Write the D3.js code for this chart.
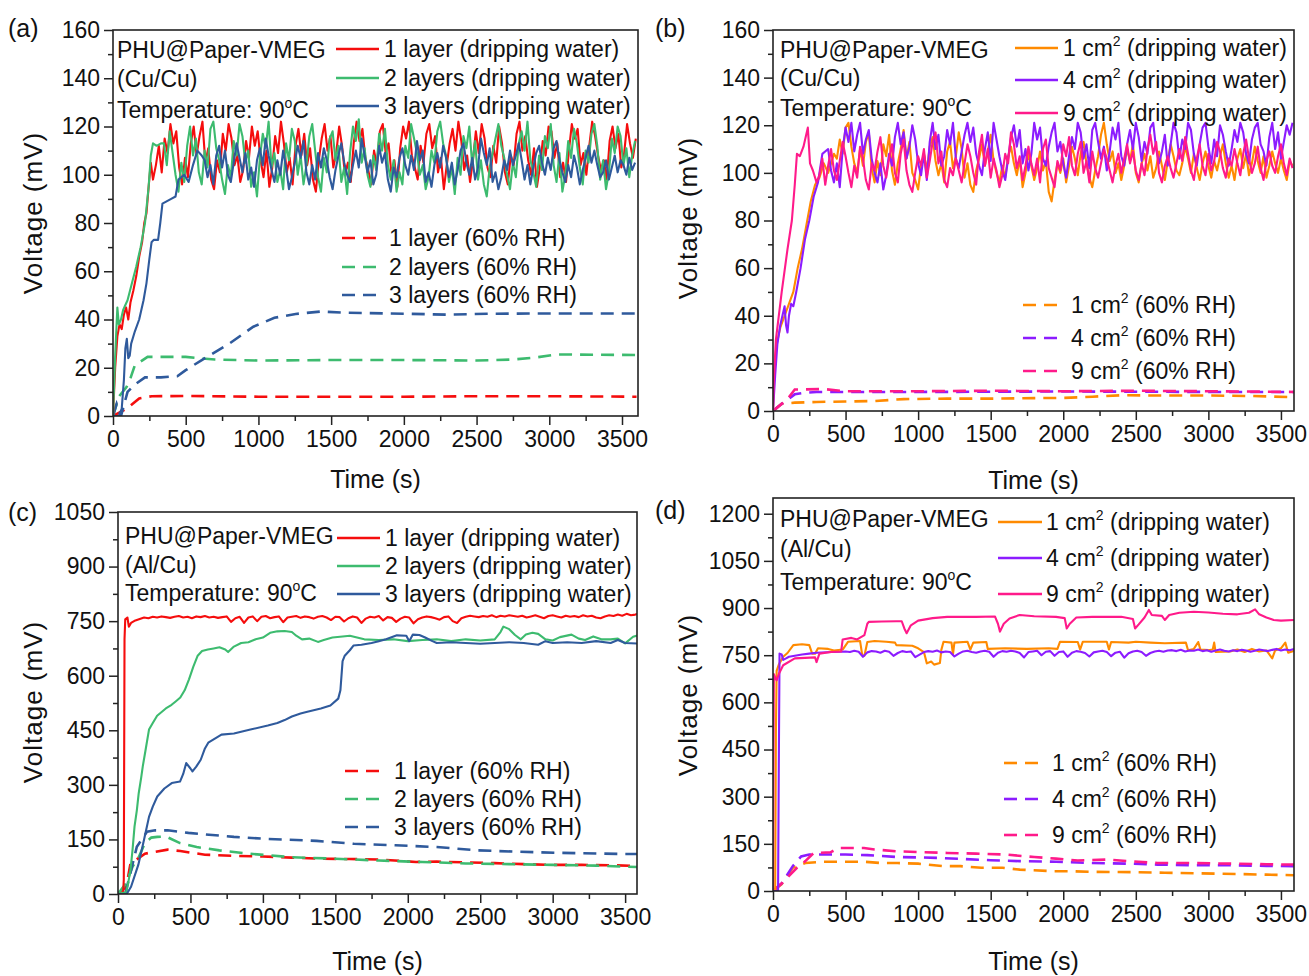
<!DOCTYPE html>
<html>
<head>
<meta charset="utf-8">
<script src="https://cdn.jsdelivr.net/npm/d3@7"></script>
<style>
  body { margin: 0; background: #fff; }
  svg text { font-family: "Liberation Sans", Arial, sans-serif; fill: #111; }
</style>
</head>
<body>
<svg id="chart" width="1309" height="976"></svg>
<script>
// ---------------- tick labels ----------------
const timeTicks = [0, 500, 1000, 1500, 2000, 2500, 3000, 3500];
const timeMinor = [250, 750, 1250, 1750, 2250, 2750, 3250];
const voltTicksCu = [0, 20, 40, 60, 80, 100, 120, 140, 160];
const voltMinorCu = [10, 30, 50, 70, 90, 110, 130, 150];
const voltTicksC = [0, 150, 300, 450, 600, 750, 900, 1050];
const voltTicksD = [0, 150, 300, 450, 600, 750, 900, 1050, 1200];
const voltMinorAl = [75, 225, 375, 525, 675, 825, 975, 1125];

// ---------------- legend labels ----------------
const layerNames = ["1 layer", "2 layers", "3 layers"];
const areaNames = ["1", "4", "9"];

// plateau samples: read every 20 s on the Cu/Cu panels, every 30 s on Al/Cu
const STEP_CU = 20;
const STEP_AL = 30;

// ---------------- (a) Cu/Cu, layers ----------------
const redA_ramp = [[0,0],[15,20],[30,33],[45,38],[60,36],[75,42],[90,45],[105,40],[120,47],[140,52],[160,58],[180,66],[200,72],[215,80],[230,84],[245,95],[260,105],[275,98]];
const redA_vals = [104,112,101,115,109,121,113,118,103,96,
  107,99,113,120,108,116,122,105,111,98,
  94,106,101,117,110,121,115,104,108,97,
  102,114,107,120,112,118,106,99,110,95,
  103,116,109,122,113,101,107,96,112,119,
  108,117,104,111,98,93,106,115,121,110,
  116,103,109,120,112,100,105,97,113,122,
  114,119,107,102,96,110,104,118,121,109,
  113,100,106,95,111,120,115,122,108,103,
  98,112,105,117,121,111,116,101,107,94,
  104,113,119,110,122,114,102,108,97,106,
  118,109,121,115,103,99,112,105,120,113,
  101,96,108,104,117,122,110,116,106,100,
  111,95,103,114,108,120,118,107,113,99,
  105,97,110,121,115,119,104,109,100,112,
  122,116,108,102,106,98,114,120,111,117,
  103,109,121,113,107,115];
const greenA_ramp = [[0,0],[15,25],[30,45],[40,38],[55,40],[70,44],[85,46],[100,48],[130,55],[160,62],[190,70],[220,80],[245,95],[260,108],[275,113],[300,112],[330,113]];
const greenA_vals = [113,104,118,109,100,93,105,97,112,120,
  108,115,101,96,110,103,119,122,111,106,
  98,92,104,99,114,108,121,116,105,110,
  95,101,91,107,117,111,122,103,109,97,
  102,94,113,106,119,114,100,108,96,104,
  116,121,110,99,93,107,101,115,118,106,
  112,97,103,92,109,120,114,123,105,111,
  100,95,108,102,117,110,119,104,98,106,
  93,101,96,112,107,121,115,109,100,104,
  94,99,110,105,118,122,113,108,97,103,
  92,107,100,116,111,120,104,114,98,106,
  96,91,103,109,115,121,112,107,100,94,
  105,99,113,118,110,122,106,101,95,108,
  102,116,111,121,104,97,109,93,100,114,
  107,119,113,103,96,110,105,117,121,112,
  98,106,94,101,115,109,120,116,104,111,
  99,108,114];
const blueA_ramp = [[0,0],[40,0],[60,3],[75,15],[85,28],[95,32],[105,24],[115,25],[125,30],[150,35],[180,40],[210,48],[230,55],[250,65],[265,72],[280,73],[310,73],[325,80],[340,88],[400,90],[430,91],[450,98],[490,100],[520,97],[550,104],[580,110],[610,108]];
const blueA_vals = [106,99,104,96,108,112,103,110,100,97,
  105,113,107,101,109,98,103,95,106,111,
  104,115,108,102,97,106,100,110,103,94,
  99,105,112,107,114,101,96,104,98,109,
  103,111,106,99,94,102,108,113,105,100,
  97,104,110,103,115,108,101,106,96,100,
  112,105,109,98,93,103,99,107,111,104,
  100,108,102,114,106,110,97,101,95,104,
  109,103,112,107,99,105,96,102,110,113,
  105,100,107,98,103,115,109,104,111,97,
  101,94,99,106,102,110,104,108,113,106,
  98,104,96,103,109,112,105,100,107,102,
  111,114,106,101,97,104,99,108,103,96,
  102,107,112,105,110,104,99,101,106,98,
  103,108,101,106,104,100,107,102,105];
const redA_rh = [[0,0],[20,0.7],[93,3],[180,7.3],[267,8.2],[500,8.3],[1000,8],[1500,8],[2000,8],[2500,8.2],[3000,8.2],[3600,8]];
const greenA_rh = [[0,0],[40,8],[93,12],[122,16],[150,21],[238,24.5],[500,24.5],[700,23.4],[1000,23],[1500,23.2],[2000,23.2],[2500,23],[2750,23.4],[2900,24.2],[3050,25.5],[3600,25.3]];
const blueA_rh = [[0,0],[25,5],[55,0],[100,10],[150,13],[220,16],[330,16],[442,16.5],[500,19],[616,23.4],[800,30],[965,37],[1110,40.7],[1256,42.3],[1430,43.3],[1600,42.8],[2000,42.4],[2300,42],[2600,42.4],[3000,42.5],[3600,42.5]];

// ---------------- (b) Cu/Cu, areas ----------------
const orangeB_ramp = [[0,0],[10,18],[25,28],[50,35],[80,40],[110,45],[140,50],[170,60],[200,68],[230,78],[260,88],[290,95],[320,98],[350,104],[380,100],[420,108]];
const orangeB_vals = [106,114,108,119,121,111,104,100,110,103,
  113,117,102,96,105,99,112,107,116,101,
  95,104,110,118,106,113,100,97,93,103,
  108,101,111,115,105,99,104,96,109,113,
  102,107,117,110,98,104,95,92,101,106,
  112,103,109,116,105,100,96,103,98,107,
  111,104,99,106,94,100,108,103,97,102,
  109,101,105,92,88,97,104,100,106,96,
  103,111,106,99,108,113,104,98,94,101,
  107,116,121,112,105,109,100,104,97,103,
  110,105,112,100,96,104,108,101,107,98,
  102,109,103,97,105,112,107,101,99,104,
  111,106,100,108,102,97,104,109,103,98,
  105,101,107,112,104,98,103,97,106,110,
  102,108,99,104,111,105,100,107,98,103,
  109,104,100,106,101,97,105,103];
const purpleB_ramp = [[0,0],[15,15],[30,28],[50,36],[65,40],[80,44],[90,36],[100,33],[110,40],[125,45],[140,44],[160,50],[190,60],[220,72],[250,80],[280,90],[310,96],[340,108],[380,110]];
const purpleB_vals = [101,96,104,94,110,119,113,121,109,116,
  121,108,114,118,106,100,96,104,93,99,
  108,103,115,121,112,117,106,111,120,114,
  104,99,108,97,113,121,110,116,103,107,
  118,112,121,106,102,109,116,121,113,119,
  108,103,99,110,117,105,121,114,107,101,
  97,106,115,120,111,118,104,110,101,108,
  121,114,119,106,103,111,117,121,109,113,
  104,98,107,115,110,121,117,106,112,102,
  118,121,113,106,111,101,109,119,114,121,
  107,103,112,118,110,121,115,105,113,108,
  119,121,110,104,109,116,103,112,121,117,
  106,114,110,121,118,108,103,112,119,121,
  111,104,114,107,120,116,109,103,110,118,
  113,121,117,108,104,114,119,121,112,109,
  103,115,121,110,117,106,113,120,116,121];
const pinkB_ramp = [[0,0],[5,12],[20,30],[60,50],[100,68],[130,80],[150,95],[165,108],[185,107],[210,111],[240,119],[255,104],[275,101],[300,96]];
const pinkB_vals = [99,106,95,103,110,101,97,105,113,107,
  100,94,103,98,111,106,97,93,104,101,
  109,115,103,98,106,112,100,96,108,114,
  101,95,92,100,107,103,110,98,105,113,
  117,104,109,97,94,102,99,106,101,96,
  104,112,107,100,95,109,116,103,110,98,
  106,101,94,99,108,104,117,112,102,107,
  97,103,111,104,99,106,96,110,114,102,
  98,94,105,101,112,107,115,103,99,108,
  113,100,105,96,109,102,98,104,110,106,
  101,96,103,108,100,106,112,104,109,101,
  97,104,99,110,116,108,113,100,96,103,
  107,102,98,104,110,105,115,108,101,97,
  106,112,103,99,108,101,105,113,109,102,
  98,106,103,110,104,99,108,114,106,100,
  104,111,102,97,105,109,103,100,107,112,
  104,99,106,102];
const orangeB_rh = [[0,0],[60,3],[150,3.5],[300,3.8],[500,4],[700,4.2],[900,5],[1200,5.2],[1500,5.2],[1800,5.4],[2000,5.5],[2200,6],[2400,6.6],[2700,6.5],[3000,6.5],[3300,6.3],[3600,5.8]];
const purpleB_rh = [[0,0],[60,3],[150,7],[200,7.5],[300,8],[1000,8],[2000,8.2],[3000,8],[3600,8]];
const pinkB_rh = [[0,0],[100,5],[150,9],[350,9.2],[500,8.3],[1000,8.3],[1500,8.5],[2000,8.3],[2500,8.5],[3000,8.3],[3600,8]];

// ---------------- (c) Al/Cu, layers ----------------
const redC_ramp = [[0,0],[35,0],[40,40],[45,700],[50,755],[65,760],[75,735],[90,745]];
const redC_vals = [752,756,760,758,762,760,763,761,759,762,
  764,760,762,758,763,761,764,760,762,759,
  761,763,748,758,762,745,760,763,750,762,
  764,758,761,763,747,760,762,764,759,763,
  761,757,762,764,760,753,762,761,749,758,
  763,760,745,757,762,760,764,752,761,759,
  748,757,762,760,744,755,760,763,761,758,
  754,761,763,750,745,758,762,765,763,761,
  764,762,766,761,765,763,766,764,762,765,
  760,763,766,762,758,764,766,763,760,765,
  762,764,761,766,763,765,760,758,763,766,
  764,768,765,770,766,768,771];
const greenC = [[0,0],[57,5],[70,30],[86,65],[100,120],[114,185],[130,230],[143,277],[160,320],[171,351],[190,395],[214,452],[240,470],[270,490],[330,510],[370,520],[400,530],[430,540],[460,560],[490,590],[520,625],[550,655],[580,668],[620,672],[660,675],[700,678],[740,672],[760,665],[800,680],[850,690],[900,692],[950,700],[1000,705],[1050,718],[1100,722],[1150,723],[1200,720],[1230,710],[1270,700],[1320,702],[1380,693],[1420,698],[1480,705],[1550,708],[1600,710],[1650,705],[1700,700],[1800,698],[1900,700],[2000,695],[2100,698],[2200,700],[2300,695],[2400,700],[2500,697],[2600,700],[2640,720],[2660,735],[2700,728],[2740,712],[2780,700],[2815,713],[2860,718],[2900,715],[2950,700],[3000,697],[3050,706],[3130,713],[3180,702],[3224,698],[3280,708],[3336,700],[3400,700],[3450,702],[3500,689],[3555,707],[3600,712]];
const blueC = [[0,0],[60,0],[90,20],[140,80],[180,150],[214,212],[240,240],[271,268],[320,290],[371,305],[428,309],[450,330],[471,360],[500,345],[514,337],[540,350],[571,369],[600,400],[623,416],[714,438],[800,441],[914,452],[1034,463],[1100,470],[1150,478],[1200,488],[1260,496],[1300,500],[1350,505],[1400,510],[1466,518],[1520,537],[1535,560],[1550,640],[1565,655],[1600,670],[1625,683],[1680,685],[1750,690],[1800,695],[1850,700],[1925,711],[1990,710],[2010,695],[2035,713],[2080,712],[2120,705],[2170,695],[2200,690],[2300,692],[2400,690],[2500,688],[2600,690],[2700,692],[2800,690],[2900,685],[2950,695],[3000,690],[3100,692],[3200,690],[3300,695],[3400,690],[3450,698],[3500,690],[3600,688]];
const redC_rh = [[0,0],[57,20],[86,83],[186,111],[243,115],[343,122],[430,118],[600,108],[800,105],[1000,103],[1200,100],[1400,97],[1600,96],[1800,95],[2057,88],[2200,89],[2400,87],[2600,85],[2800,82],[3000,80],[3200,80],[3400,79],[3600,77]];
const greenC_rh = [[0,0],[57,30],[100,75],[143,101],[186,140],[230,155],[271,157],[330,158],[428,140],[543,129],[700,120],[900,111],[1200,101],[1500,97],[1800,92],[2100,88],[2400,84],[2700,82],[3000,80],[3300,78],[3600,74]];
const blueC_rh = [[50,0],[130,130],[200,171],[257,175],[343,175],[486,168],[628,163],[800,157],[1000,152],[1371,146],[1629,138],[1914,134],[2200,129],[2486,120],[2771,116],[3057,113],[3486,110],[3600,110]];

// ---------------- (d) Al/Cu, areas ----------------
const orangeD = [[0,0],[15,0],[20,500],[25,700],[40,720],[70,745],[100,757],[140,782],[200,785],[250,782],[270,755],[290,755],[310,772],[380,770],[420,765],[480,768],[518,793],[600,795],[615,750],[630,748],[650,792],[700,795],[780,793],[841,790],[850,782],[960,780],[1000,772],[1040,760],[1060,724],[1090,730],[1110,720],[1150,725],[1160,767],[1175,793],[1230,790],[1240,752],[1250,790],[1340,793],[1360,768],[1380,790],[1470,792],[1480,770],[1600,772],[1750,770],[1900,772],[1960,770],[1978,793],[2100,792],[2116,768],[2135,793],[2300,793],[2315,768],[2330,792],[2450,790],[2500,793],[2600,790],[2700,788],[2845,790],[2860,766],[2900,770],[2930,792],[2945,768],[3000,766],[3030,768],[3040,790],[3050,760],[3150,762],[3200,768],[3250,760],[3300,770],[3350,762],[3400,765],[3440,740],[3460,765],[3500,772],[3530,790],[3550,758],[3600,765]];
const purpleD_ramp = [[0,0],[35,0],[40,400],[45,755],[60,752],[70,735],[90,740],[110,745],[150,748],[200,752],[250,755],[300,758],[400,760],[470,761]];
const purpleD_vals = [762,760,764,761,745,759,763,762,758,764,
  761,748,757,763,760,762,744,752,760,763,
  761,765,759,762,760,746,755,762,764,760,
  758,762,764,761,745,758,763,761,764,762,
  757,743,760,762,764,750,761,763,748,760,
  762,745,758,763,761,757,746,759,762,764,
  760,747,758,761,742,756,762,764,760,748,
  757,762,764,761,765,766,763,767,762,765,
  764,768,763,766,761,765,768,764,762,766,
  763,767,765,761,764,768,766,763,767,770,
  765,768,766,770];
const pinkD = [[0,0],[3,400],[6,690],[15,680],[25,670],[40,690],[70,718],[150,740],[290,743],[300,728],[320,755],[400,760],[470,762],[480,800],[540,805],[580,800],[600,806],[630,814],[650,850],[660,856],[750,857],[850,858],[887,858],[905,835],[921,820],[950,845],[1000,860],[1100,868],[1200,872],[1400,872],[1530,873],[1550,850],[1564,825],[1590,850],[1630,867],[1700,878],[1800,874],[1950,872],[2010,868],[2024,835],[2045,850],[2090,870],[2200,872],[2400,872],[2480,865],[2495,835],[2520,848],[2560,870],[2590,894],[2610,878],[2680,875],[2700,862],[2730,878],[2800,885],[2900,888],[3000,886],[3100,882],[3200,880],[3280,885],[3322,896],[3350,880],[3400,870],[3450,862],[3500,860],[3600,862]];
const orangeD_rh = [[0,0],[60,22],[136,74],[223,89],[338,93],[500,93],[627,93],[743,89],[858,89],[1000,87],[1176,79],[1292,79],[1436,74],[1581,74],[1700,68],[1928,63],[2043,63],[2200,61],[2500,60],[2700,58],[2950,56],[3200,54],[3400,52],[3600,50]];
const purpleD_rh = [[0,0],[60,24],[136,79],[194,110],[250,116],[500,116],[650,114],[858,108],[1000,107],[1150,105],[1300,102],[1500,98],[1700,95],[1950,93],[2200,89],[2450,87],[2650,84],[2900,82],[3150,82],[3400,80],[3600,79]];
const pinkD_rh = [[0,0],[64,26],[165,74],[223,95],[280,121],[396,123],[454,137],[627,137],[700,132],[858,126],[1000,124],[1200,121],[1400,119],[1600,116],[1800,108],[1950,103],[2100,97],[2300,100],[2450,95],[2650,89],[2900,89],[3150,87],[3400,85],[3600,84]];

// ---------------- helpers ----------------
// ramp pairs followed by plateau values sampled every `step` seconds
function joinSeries(ramp, vals, step) {
  const t0 = ramp[ramp.length - 1][0] + step;
  return ramp.concat(vals.map((v, i) => [t0 + i * step, v]));
}

const C = {
  red: "#f50d0d", green: "#3dbb6f", blue: "#2f5a9c",
  orange: "#ff8a00", purple: "#8c1cff", pink: "#ff1a8a"
};

const svg = d3.select("#chart");

const panels = [
  {
    id: "a", tag: "(a)", tagX: 8, tagY: 37,
    left: 113, right: 638, top: 30, bottom: 416,
    xMax: 3610, yMax: 160, yTicks: voltTicksCu, yMinor: voltMinorCu,
    note: ["PHU@Paper-VMEG", "(Cu/Cu)"], noteX: 117, noteY: [50, 79, 110],
    titleX: 33, titleY: 213, timeY: 479,
    solid: [
      { pts: joinSeries(redA_ramp, redA_vals, STEP_CU), c: C.red },
      { pts: joinSeries(greenA_ramp, greenA_vals, STEP_CU), c: C.green },
      { pts: joinSeries(blueA_ramp, blueA_vals, STEP_CU), c: C.blue }
    ],
    dashed: [
      { pts: redA_rh, c: C.red }, { pts: greenA_rh, c: C.green }, { pts: blueA_rh, c: C.blue }
    ],
    legSolid: { x1: 336, x2: 379, tx: 384, ys: [49, 78, 106] },
    legDash: { x1: 342, x2: 383, tx: 389, ys: [238, 267, 295] },
    names: layerNames, area: false
  },
  {
    id: "b", tag: "(b)", tagX: 655, tagY: 37,
    left: 773, right: 1294, top: 30, bottom: 411,
    xMax: 3590, yMax: 160, yTicks: voltTicksCu, yMinor: voltMinorCu,
    note: ["PHU@Paper-VMEG", "(Cu/Cu)"], noteX: 780, noteY: [50, 78, 108],
    titleX: 688, titleY: 218, timeY: 480,
    solid: [
      { pts: joinSeries(orangeB_ramp, orangeB_vals, STEP_CU), c: C.orange },
      { pts: joinSeries(purpleB_ramp, purpleB_vals, STEP_CU), c: C.purple },
      { pts: joinSeries(pinkB_ramp, pinkB_vals, STEP_CU), c: C.pink }
    ],
    dashed: [
      { pts: orangeB_rh, c: C.orange }, { pts: purpleB_rh, c: C.purple }, { pts: pinkB_rh, c: C.pink }
    ],
    legSolid: { x1: 1015, x2: 1058, tx: 1063, ys: [48, 80, 113] },
    legDash: { x1: 1023, x2: 1064, tx: 1071, ys: [305, 338, 371] },
    names: areaNames, area: true
  },
  {
    id: "c", tag: "(c)", tagX: 8, tagY: 521,
    left: 118, right: 637, top: 512, bottom: 894,
    xMax: 3582, yMax: 1050, yTicks: voltTicksC, yMinor: voltMinorAl,
    note: ["PHU@Paper-VMEG", "(Al/Cu)"], noteX: 125, noteY: [536, 565, 593],
    titleX: 33, titleY: 702, timeY: 961,
    solid: [
      { pts: joinSeries(redC_ramp, redC_vals, STEP_AL), c: C.red },
      { pts: greenC, c: C.green },
      { pts: blueC, c: C.blue }
    ],
    dashed: [
      { pts: redC_rh, c: C.red }, { pts: greenC_rh, c: C.green }, { pts: blueC_rh, c: C.blue }
    ],
    legSolid: { x1: 337, x2: 380, tx: 385, ys: [538, 566, 594] },
    legDash: { x1: 345, x2: 387, tx: 394, ys: [771, 799, 827] },
    names: layerNames, area: false
  },
  {
    id: "d", tag: "(d)", tagX: 655, tagY: 519,
    left: 773, right: 1294, top: 498, bottom: 891,
    xMax: 3590, yMax: 1250, yTicks: voltTicksD, yMinor: voltMinorAl,
    note: ["PHU@Paper-VMEG", "(Al/Cu)"], noteX: 780, noteY: [519, 549, 582],
    titleX: 688, titleY: 695, timeY: 961,
    solid: [
      { pts: orangeD, c: C.orange },
      { pts: joinSeries(purpleD_ramp, purpleD_vals, STEP_AL), c: C.purple },
      { pts: pinkD, c: C.pink }
    ],
    dashed: [
      { pts: orangeD_rh, c: C.orange }, { pts: purpleD_rh, c: C.purple }, { pts: pinkD_rh, c: C.pink }
    ],
    legSolid: { x1: 998, x2: 1042, tx: 1046, ys: [522, 558, 594] },
    legDash: { x1: 1004, x2: 1046, tx: 1052, ys: [763, 799, 835] },
    names: areaNames, area: true
  }
];

const FS = 23;

function styleAxis(sel) {
  sel.select(".domain").remove();
  sel.selectAll("line").attr("stroke", "#222").attr("stroke-width", 1.5);
  sel.selectAll("text").attr("font-size", FS).attr("fill", "#111");
}

// legend text, with superscript "2" for the area panels
function legendText(g, p, x, y, i, suffix) {
  const t = g.append("text").attr("x", x).attr("y", y + 8).attr("font-size", FS);
  if (p.area) {
    t.append("tspan").text(p.names[i] + " cm");
    t.append("tspan").attr("font-size", 14).attr("dy", -10).text("2");
    t.append("tspan").attr("dy", 10).text(" " + suffix);
  } else {
    t.text(p.names[i] + " " + suffix);
  }
}

panels.forEach(p => {
  const g = svg.append("g");
  const x = d3.scaleLinear().domain([0, p.xMax]).range([p.left, p.right]);
  const y = d3.scaleLinear().domain([0, p.yMax]).range([p.bottom, p.top]);
  const line = d3.line().x(d => x(d[0])).y(d => y(d[1]));

  svg.append("clipPath").attr("id", "clip-" + p.id)
    .append("rect")
    .attr("x", p.left).attr("y", p.top)
    .attr("width", p.right - p.left).attr("height", p.bottom - p.top);

  const plot = g.append("g").attr("clip-path", `url(#clip-${p.id})`);

  // dashed (60% RH) curves
  p.dashed.forEach(s => {
    plot.append("path").datum(s.pts)
      .attr("fill", "none").attr("stroke", s.c)
      .attr("stroke-width", 2.6).attr("stroke-dasharray", "13,8")
      .attr("d", line);
  });
  // solid (dripping water) curves
  p.solid.forEach(s => {
    plot.append("path").datum(s.pts)
      .attr("fill", "none").attr("stroke", s.c)
      .attr("stroke-width", 2.1).attr("stroke-linejoin", "round")
      .attr("d", line);
  });

  // frame
  g.append("rect")
    .attr("x", p.left).attr("y", p.top)
    .attr("width", p.right - p.left).attr("height", p.bottom - p.top)
    .attr("fill", "none").attr("stroke", "#222").attr("stroke-width", 1.6);

  // x axis
  g.append("g").attr("transform", `translate(0,${p.bottom})`)
    .call(d3.axisBottom(x).tickValues(timeTicks).tickFormat(d3.format("d"))
      .tickSize(9).tickPadding(6).tickSizeOuter(0))
    .call(styleAxis);
  g.append("g").attr("transform", `translate(0,${p.bottom})`)
    .call(d3.axisBottom(x).tickValues(timeMinor).tickSize(5).tickFormat("").tickSizeOuter(0))
    .call(styleAxis);

  // y axis
  g.append("g").attr("transform", `translate(${p.left},0)`)
    .call(d3.axisLeft(y).tickValues(p.yTicks).tickFormat(d3.format("d"))
      .tickSize(9).tickPadding(4).tickSizeOuter(0))
    .call(styleAxis);
  g.append("g").attr("transform", `translate(${p.left},0)`)
    .call(d3.axisLeft(y).tickValues(p.yMinor.filter(v => v < p.yMax))
      .tickSize(5).tickFormat("").tickSizeOuter(0))
    .call(styleAxis);

  // axis titles
  g.append("text")
    .attr("transform", `translate(${p.titleX},${p.titleY}) rotate(-90)`)
    .attr("text-anchor", "middle").attr("dy", "0.35em")
    .attr("font-size", 26).attr("letter-spacing", 1).text("Voltage (mV)");
  g.append("text")
    .attr("x", (p.left + p.right) / 2).attr("y", p.timeY).attr("dy", "0.35em")
    .attr("text-anchor", "middle").attr("font-size", 25).text("Time (s)");

  // panel tag
  g.append("text").attr("x", p.tagX).attr("y", p.tagY)
    .attr("font-size", 25).text(p.tag);

  // annotation
  g.append("text").attr("x", p.noteX).attr("y", p.noteY[0] + 8).attr("font-size", FS).text(p.note[0]);
  g.append("text").attr("x", p.noteX).attr("y", p.noteY[1] + 8).attr("font-size", FS).text(p.note[1]);
  const temp = g.append("text").attr("x", p.noteX).attr("y", p.noteY[2] + 8).attr("font-size", FS);
  temp.append("tspan").text("Temperature: 90");
  temp.append("tspan").attr("font-size", 14).attr("dy", -10).text("o");
  temp.append("tspan").attr("dy", 10).text("C");

  // legends
  p.solid.forEach((s, i) => {
    const yy = p.legSolid.ys[i];
    g.append("line").attr("x1", p.legSolid.x1).attr("x2", p.legSolid.x2)
      .attr("y1", yy).attr("y2", yy).attr("stroke", s.c).attr("stroke-width", 2.4);
    legendText(g, p, p.legSolid.tx, yy, i, "(dripping water)");
  });
  p.dashed.forEach((s, i) => {
    const yy = p.legDash.ys[i];
    g.append("line").attr("x1", p.legDash.x1).attr("x2", p.legDash.x2)
      .attr("y1", yy).attr("y2", yy).attr("stroke", s.c).attr("stroke-width", 2.6)
      .attr("stroke-dasharray", "13,8");
    legendText(g, p, p.legDash.tx, yy, i, "(60% RH)");
  });
});
</script>
</body>
</html>
